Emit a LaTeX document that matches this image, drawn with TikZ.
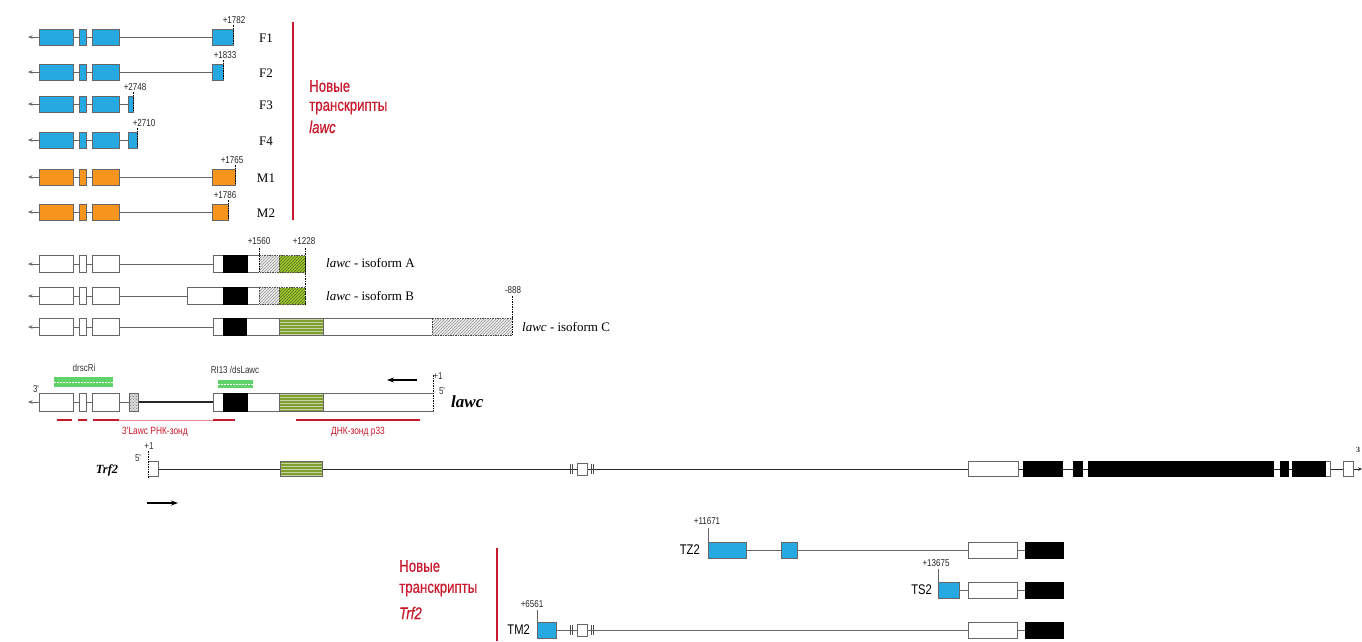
\documentclass[tikz,border=0pt]{standalone}
\usepackage{fontspec}
\setmainfont{Liberation Serif}
\newfontfamily\condfont[FakeStretch=0.8]{Liberation Sans}
\newfontfamily\redfont[FakeStretch=0.78,FakeBold=0.5]{Liberation Sans}
\usetikzlibrary{patterns,arrows.meta}
\definecolor{cblue}{RGB}{38,169,224}
\definecolor{corange}{RGB}{247,148,29}
\definecolor{cred}{RGB}{200,25,45}
\definecolor{cgreenA}{RGB}{155,200,45}
\definecolor{colive}{RGB}{128,158,48}
\definecolor{cprobe}{RGB}{95,210,105}
\newcommand\bx[4][]{\draw[exon,#1] (#2,#4-\hh) rectangle (#3,#4+\hh);}
\newcommand\hgray[3]{\fill[black!8] (#1,#3-\hh) rectangle (#2,#3+\hh);
  \fill[pattern=north east lines, pattern color=black!40] (#1,#3-\hh) rectangle (#2,#3+\hh);
  \draw[dashbox] (#1,#3-\hh) rectangle (#2,#3+\hh);}
\newcommand\hgreen[3]{\fill[cgreenA] (#1,#3-\hh) rectangle (#2,#3+\hh);
  \fill[pattern=north east lines, pattern color=colive!70!black] (#1,#3-\hh) rectangle (#2,#3+\hh);
  \draw[dashbox] (#1,#3-\hh) rectangle (#2,#3+\hh);}
\newcommand\holive[3]{\fill[colive] (#1,#3-\hh) rectangle (#2,#3+\hh);
  \fill[pattern=horizontal lines, pattern color=colive!45!white] (#1,#3-\hh) rectangle (#2,#3+\hh);
  \draw[exon] (#1,#3-\hh) rectangle (#2,#3+\hh);}
\newcommand\brk[2]{\draw[black!70,line width=0.7pt] (#1,#2-5) -- (#1,#2+5) (#1+2.5,#2-5) -- (#1+2.5,#2+5);}
\begin{document}
\begin{tikzpicture}[x=1pt,y=-1pt,
  exon/.style={draw=black!60, line width=0.6pt},
  wbox/.style={fill=white},
  kbox/.style={fill=black, draw=black},
  intron/.style={draw=black!60, line width=0.6pt},
  gline/.style={draw=black!85, line width=1.1pt},
  tail/.style={{Stealth[length=4.5pt,width=3.5pt]}-},
  dashbox/.style={draw=black!70, line width=0.5pt, dash pattern=on 1.5pt off 1pt},
  dashmark/.style={draw=black, line width=0.8pt, dash pattern=on 1.5pt off 1pt},
  num/.style={font=\condfont\fontsize{10}{11}\selectfont, inner sep=0pt, text=black!85},
  lbl/.style={font=\fontsize{13}{14}\selectfont, inner sep=0pt},
  redtxt/.style={font=\redfont\fontsize{17}{18}\selectfont, text=cred, inner sep=0pt, anchor=west},
  probe/.style={font=\condfont\fontsize{10.5}{11}\selectfont, text=cred, inner sep=0pt},
  small/.style={font=\condfont\fontsize{10}{11}\selectfont, inner sep=0pt, text=black!80},
  tlab/.style={font=\condfont\fontsize{14}{15}\selectfont, inner sep=0pt, anchor=east},
  redrule/.style={draw=cred, line width=1.5pt}]
\useasboundingbox (0,0) rectangle (1362,641);
\fill[white] (0,0) rectangle (1362,641);
% ---------------- new lawc transcripts
\def\hh{8}
\foreach \y/\fc/\xa/\xb/\nm/\num/\nx in {
 37/cblue/212/233/F1/+1782/234,
 72/cblue/212/223/F2/+1833/225,
 104/cblue/128/133/F3/+2748/135,
 140/cblue/128/137/F4/+2710/144,
 177/corange/212/235/M1/+1765/232,
 212/corange/212/228/M2/+1786/225}{
 \draw[intron,tail] (28,\y) -- (\xa,\y);
 \bx[fill=\fc]{39}{73}{\y}
 \bx[fill=\fc]{79}{86}{\y}
 \bx[fill=\fc]{92}{119}{\y}
 \bx[fill=\fc]{\xa}{\xb}{\y}
 \draw[dashmark] (\xb,\y-12) -- (\xb,\y+8);
 \node[num] (n\nm) at (\nx,\y-17) {\num};
 \node[lbl] (l\nm) at (266,\y+1) {\nm};
}
\draw[redrule] (293,22) -- (293,220);
\node[redtxt] (r1) at (309,86) {Новые};
\node[redtxt] (r2) at (309,108) {транскрипты};
\node[redtxt] (r3) at (309,127) {\itshape lawc};
% ---------------- isoforms
\def\hh{8.5}
% A
\draw[intron,tail] (28,264) -- (213,264);
\bx[wbox]{39}{73}{264}\bx[wbox]{79}{86}{264}\bx[wbox]{92}{119}{264}
\bx[wbox]{213}{259}{264}\bx[kbox]{223}{247}{264}
\hgray{259}{279}{264}\hgreen{279}{305}{264}
% B
\draw[intron,tail] (28,296) -- (187,296);
\bx[wbox]{39}{73}{296}\bx[wbox]{79}{86}{296}\bx[wbox]{92}{119}{296}
\bx[wbox]{187}{259}{296}\bx[kbox]{223}{247}{296}
\hgray{259}{279}{296}\hgreen{279}{305}{296}
% C
\draw[intron,tail] (28,327) -- (213,327);
\bx[wbox]{39}{73}{327}\bx[wbox]{79}{86}{327}\bx[wbox]{92}{119}{327}
\bx[wbox]{213}{432}{327}\bx[kbox]{223}{246}{327}
\holive{279}{323}{327}
\hgray{432}{512}{327}
\draw[dashmark] (259,248) -- (259,273);
\draw[dashmark] (305,248) -- (305,305);
\draw[dashmark] (512,296) -- (512,336);
\node[num] (n1560) at (259,241) {+1560};
\node[num] (n1228) at (304,241) {+1228};
\node[num] (n888) at (513,290) {-888};
\node[lbl, anchor=west] (isoA) at (326,263) {\textit{lawc} - isoform A};
\node[lbl, anchor=west] (isoB) at (326,296) {\textit{lawc} - isoform B};
\node[lbl, anchor=west] (isoC) at (522,327) {\textit{lawc} - isoform C};
% ---------------- lawc gene
\def\hh{9}
\draw[intron,tail] (28,402) -- (129,402);
\draw[gline] (138,402) -- (213,402);
\bx[wbox]{39}{73}{402}\bx[wbox]{79}{86}{402}\bx[wbox]{92}{119}{402}
\fill[black!15] (129,393) rectangle (138,411);
\fill[pattern=crosshatch dots, pattern color=black!50] (129,393) rectangle (138,411);
\draw[exon] (129,393) rectangle (138,411);
\bx[wbox]{213}{433}{402}\bx[kbox]{223}{247}{402}
\holive{279}{323}{402}
\draw[white, line width=1pt] (433,394) -- (433,410);
\draw[dashmark] (433,375) -- (433,411);
\node[small] (p1l) at (438,376) {+1};
\node[small] (p5l) at (442,391) {5'};
\node[small] (p3l) at (36,389) {3'};
\node[font=\bfseries\itshape\fontsize{17}{18}\selectfont, anchor=west, inner sep=0pt] (lawcname) at (451,402) {lawc};
% probes
\fill[cprobe] (54,377) rectangle (113,387);
\draw[white, line width=1pt, dash pattern=on 2pt off 1pt] (54,382) -- (113,382);
\fill[cprobe] (218,380) rectangle (253,388);
\draw[white, line width=1pt, dash pattern=on 2pt off 1pt] (218,384) -- (253,384);
\node[small] (drsc) at (84,368) {drscRi};
\node[small] (ri13) at (235,370) {RI13 /dsLawc};
\coordinate (la1) at (417,380);
\coordinate (la2) at (387,380);
\draw[line width=1.3pt, -{Stealth[length=7pt,width=5pt]}] (la1) -- (la2);
% probe lines
\draw[cred, line width=1.5pt] (57,420) -- (72,420) (78,420) -- (87,420) (93,420) -- (119,420) (213,420) -- (235,420);
\draw[cred!50, line width=0.4pt] (119,420) -- (213,420);
\draw[cred, line width=1.5pt] (296,420) -- (420,420);
\node[probe] (rnaprobe) at (155,432) {3'Lawc РНК-зонд};
\node[probe] (dnaprobe) at (358,432) {ДНК-зонд p33};
% ---------------- Trf2 gene
\def\hh{7.5}
\coordinate (tend) at (1362,469);
\draw[gline, line width=0.9pt] (158,469) -- (1343,469);
\draw[gline, line width=0.9pt, -{Stealth[length=4pt,width=3.5pt]}] (1353,469) -- (tend);
\bx[wbox]{148}{158}{469}
\draw[white, line width=1pt] (148,462) -- (148,476);
\draw[dashmark] (148,451) -- (148,478);
\holive{280}{322}{469}
\brk{570}{469}\brk{591}{469}
\draw[exon,fill=white] (577,463) rectangle (587,475);
\bx[wbox]{968}{1018}{469}
\bx[kbox]{1023}{1062}{469}
\bx[kbox]{1073}{1082}{469}
\bx[kbox]{1088}{1273}{469}
\bx[kbox]{1280}{1288}{469}
\bx[wbox]{1292}{1330}{469}
\bx[kbox]{1292}{1325}{469}
\bx[wbox]{1343}{1353}{469}
\node[font=\bfseries\itshape\fontsize{12.5}{13}\selectfont, inner sep=0pt] (trf2name) at (107,470) {Trf2};
\node[small] (t5) at (138,458) {5'};
\node[small] (t1) at (149,446) {+1};
\node[small, font=\bfseries\fontsize{8}{9}\selectfont] (t3) at (1358,450) {3};
\coordinate (ta1) at (147,503);
\coordinate (ta2) at (178,503);
\draw[line width=1.3pt, -{Stealth[length=7pt,width=5pt]}] (ta1) -- (ta2);
% ---------------- new Trf2 transcripts
\def\hh{8}
% TZ2
\draw[intron] (746,550) -- (968,550) (1017,550) -- (1025,550);
\bx[fill=cblue]{708}{746}{550}
\bx[fill=cblue]{781}{797}{550}
\bx[wbox]{968}{1017}{550}
\bx[kbox]{1025}{1063}{550}
\draw[intron] (708,542) -- (708,528);
\node[num] (n11671) at (707,521) {+11671};
\node[tlab] (tz2) at (700,550) {TZ2};
% TS2
\draw[intron] (959,590) -- (968,590) (1017,590) -- (1025,590);
\bx[fill=cblue]{938}{959}{590}
\bx[wbox]{968}{1017}{590}
\bx[kbox]{1025}{1063}{590}
\draw[intron] (938,582) -- (938,569);
\node[num] (n13675) at (936,563) {+13675};
\node[tlab] (ts2) at (932,590) {TS2};
% TM2
\draw[intron] (556,630) -- (968,630) (1017,630) -- (1025,630);
\bx[fill=cblue]{537}{556}{630}
\brk{570}{630}\brk{591}{630}
\draw[exon,fill=white] (577,624) rectangle (587,636);
\bx[wbox]{968}{1017}{630}
\bx[kbox]{1025}{1063}{630}
\draw[intron] (537,622) -- (537,610);
\node[num] (n6561) at (532,604) {+6561};
\node[tlab] (tm2) at (530,630) {TM2};
\draw[redrule] (497,548) -- (497,641);
\node[redtxt] (b1) at (399,566) {Новые};
\node[redtxt] (b2) at (399,590) {транскрипты};
\node[redtxt] (b3) at (399,613) {\itshape Trf2};
\end{tikzpicture}
\end{document}
